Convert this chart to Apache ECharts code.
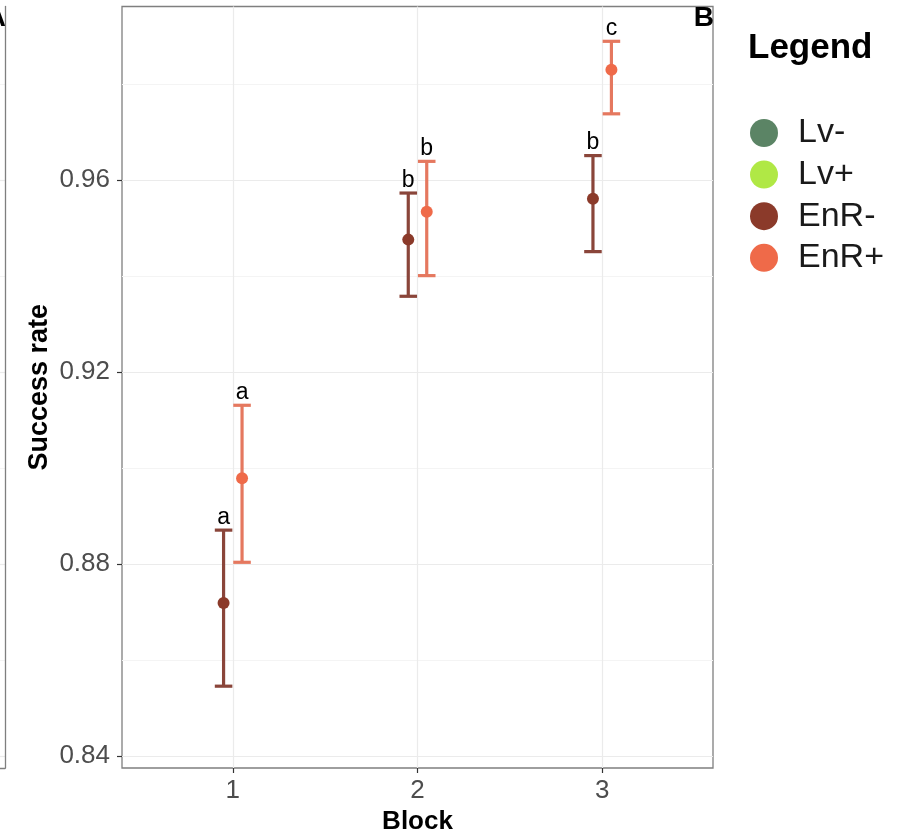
<!DOCTYPE html>
<html>
<head>
<meta charset="utf-8">
<script src="https://cdn.jsdelivr.net/npm/echarts@6/dist/echarts.min.js"></script>
<style>
  html, body { margin: 0; padding: 0; background: #ffffff; }
  #chart { width: 907px; height: 834px; }
</style>
</head>
<body>
<div id="chart"></div>
<script>
// Blocks on the x axis and the four treatment groups
const blocks = [1, 2, 3];
const groups = ['Lv-', 'Lv+', 'EnR-', 'EnR+'];

// EnR- : mean success rate with lower / upper error limits per block
const enrMinusMean = [0.8719, 0.9476, 0.9561];
const enrMinusLow  = [0.8546, 0.9358, 0.9451];
const enrMinusHigh = [0.8871, 0.9573, 0.9651];

// EnR+ : mean success rate with lower / upper error limits per block
const enrPlusMean = [0.8979, 0.9534, 0.9830];
const enrPlusLow  = [0.8804, 0.9401, 0.9738];
const enrPlusHigh = [0.9131, 0.9639, 0.9889];

// Significance letters drawn above each error bar
const enrMinusLetters = ['a', 'b', 'b'];
const enrPlusLetters  = ['a', 'b', 'c'];

// Axis ticks
const yTicks = [0.84, 0.88, 0.92, 0.96];
const yMinorTicks = [0.86, 0.90, 0.94, 0.98];
const xTickLabels = ['1', '2', '3'];

const FONT = "'Liberation Sans', Arial, Helvetica, sans-serif";
const Y_MIN = 0.83756, Y_MAX = 0.99615;
const DODGE = 0.05;
const CAP = 0.095;

const colors = {
  'Lv-': '#5b8465',
  'Lv+': '#b0e845',
  'EnR-': '#8b3a2a',
  'EnR+': '#ef6a49'
};
const barColors = { 'EnR-': '#8a453a', 'EnR+': '#e5785f' };

function errorBars(group, low, high, letters, offset) {
  const color = barColors[group];
  return {
    type: 'custom',
    name: group + ' interval',
    xAxisIndex: 0,
    yAxisIndex: 0,
    z: 3,
    silent: true,
    data: blocks.map((b, i) => [b + offset, low[i], high[i]]),
    encode: { x: 0, y: [1, 2] },
    renderItem(params, api) {
      const x = api.value(0);
      const lo = api.coord([x, api.value(1)]);
      const hi = api.coord([x, api.value(2)]);
      const half = api.size([CAP, 0])[0] / 2;
      const st = { stroke: color, lineWidth: 3.2 };
      return {
        type: 'group',
        children: [
          { type: 'line', shape: { x1: lo[0], y1: lo[1], x2: hi[0], y2: hi[1] }, style: st },
          { type: 'line', shape: { x1: lo[0] - half, y1: lo[1], x2: lo[0] + half, y2: lo[1] }, style: st },
          { type: 'line', shape: { x1: hi[0] - half, y1: hi[1], x2: hi[0] + half, y2: hi[1] }, style: st },
          {
            type: 'text',
            x: hi[0],
            y: hi[1] - 1,
            style: {
              text: letters[params.dataIndex],
              fontFamily: FONT,
              fontSize: 23,
              fill: '#000000',
              align: 'center',
              verticalAlign: 'bottom'
            }
          }
        ]
      };
    }
  };
}

function meanPoints(group, mean, offset) {
  return {
    type: 'scatter',
    name: group,
    xAxisIndex: 0,
    yAxisIndex: 0,
    z: 4,
    symbol: 'circle',
    symbolSize: 12,
    itemStyle: { color: colors[group], opacity: 1 },
    data: blocks.map((b, i) => [b + offset, mean[i]])
  };
}

const chart = echarts.init(document.getElementById('chart'), null, { renderer: 'canvas' });

const option = {
  backgroundColor: '#ffffff',
  animation: false,
  textStyle: { fontFamily: FONT },
  grid: [
    { left: 122, right: 194, top: 6.5, bottom: 66, outerBoundsMode: 'none', containLabel: false,
      show: true, borderColor: '#7f7f7f', borderWidth: 1.3, backgroundColor: 'transparent' },
    // strip of the neighbouring panel at the left edge
    { left: 0, width: 5, top: 6.5, bottom: 66, outerBoundsMode: 'none', containLabel: false, show: false }
  ],
  xAxis: [
    {
      type: 'value', gridIndex: 0, min: 0.4, max: 3.6,
      axisLine: { show: false },
      axisTick: { show: true, customValues: blocks, length: 5, lineStyle: { color: '#333333', width: 1.2 } },
      axisLabel: {
        customValues: blocks,
        formatter: (v) => xTickLabels[blocks.indexOf(Math.round(v))],
        fontSize: 26, color: '#4d4d4d', margin: 10, fontFamily: FONT
      },
      splitLine: { show: true, lineStyle: { color: '#ebebeb', width: 1.2 } },
      name: 'Block', nameLocation: 'middle', nameGap: 40,
      nameTextStyle: { fontSize: 26, fontWeight: 'bold', color: '#000000', fontFamily: FONT }
    },
    {
      type: 'value', gridIndex: 1, min: 0, max: 1, position: 'bottom',
      axisLine: { show: true, onZero: false, lineStyle: { color: '#7f7f7f', width: 1.3 } },
      axisTick: { show: false }, axisLabel: { show: false }, splitLine: { show: false }
    }
  ],
  yAxis: [
    {
      type: 'value', gridIndex: 0, min: Y_MIN, max: Y_MAX,
      axisLine: { show: false },
      axisTick: { show: true, customValues: yTicks, length: 5, lineStyle: { color: '#333333', width: 1.2 } },
      axisLabel: {
        customValues: yTicks,
        formatter: (v) => v.toFixed(2),
        fontSize: 26, color: '#4d4d4d', margin: 12, fontFamily: FONT
      },
      splitLine: { show: true, lineStyle: { color: '#ebebeb', width: 1.2 } },
      name: 'Success rate', nameLocation: 'middle', nameGap: 69, nameRotate: 90,
      nameMoveOverlap: false,
      nameTextStyle: { fontSize: 27, fontWeight: 'bold', color: '#000000', fontFamily: FONT }
    },
    {
      type: 'value', gridIndex: 0, min: Y_MIN, max: Y_MAX,
      axisLine: { show: false },
      axisTick: { show: false, customValues: yMinorTicks },
      axisLabel: { show: false },
      splitLine: { show: true, lineStyle: { color: '#f4f4f4', width: 1 } }
    },
    {
      type: 'value', gridIndex: 1, min: Y_MIN, max: Y_MAX, position: 'right',
      axisLine: { show: true, onZero: false, lineStyle: { color: '#7f7f7f', width: 1.3 } },
      axisTick: { show: false, customValues: yTicks },
      axisLabel: { show: false },
      splitLine: { show: true, lineStyle: { color: '#ebebeb', width: 1.2 } }
    },
    {
      type: 'value', gridIndex: 1, min: Y_MIN, max: Y_MAX,
      axisLine: { show: false },
      axisTick: { show: false, customValues: yMinorTicks },
      axisLabel: { show: false },
      splitLine: { show: true, lineStyle: { color: '#f4f4f4', width: 1 } }
    }
  ],
  legend: {
    data: groups,
    orient: 'vertical',
    left: 745,
    top: 111,
    icon: 'circle',
    itemWidth: 58,
    itemHeight: 28,
    itemGap: 7.6,
    selectedMode: false,
    textStyle: { fontSize: 34, color: '#1a1a1a', fontFamily: FONT, lineHeight: 28 }
  },
  graphic: [
    {
      type: 'text', left: 748, top: 31,
      style: { text: 'Legend', fontFamily: FONT, fontSize: 35, fontWeight: 'bold', fill: '#000000' }
    },
    {
      type: 'text', x: 714, y: 4,
      style: { text: 'B', fontFamily: FONT, fontSize: 28, fontWeight: 'bold', fill: '#000000', align: 'right', verticalAlign: 'top' }
    },
    {
      type: 'text', x: 6, y: 4,
      style: { text: 'A', fontFamily: FONT, fontSize: 28, fontWeight: 'bold', fill: '#000000', align: 'right', verticalAlign: 'top' }
    }
  ],
  series: [
    { type: 'scatter', name: 'Lv-', data: [], itemStyle: { color: colors['Lv-'], opacity: 1 } },
    { type: 'scatter', name: 'Lv+', data: [], itemStyle: { color: colors['Lv+'], opacity: 1 } },
    errorBars('EnR-', enrMinusLow, enrMinusHigh, enrMinusLetters, -DODGE),
    errorBars('EnR+', enrPlusLow, enrPlusHigh, enrPlusLetters, DODGE),
    meanPoints('EnR-', enrMinusMean, -DODGE),
    meanPoints('EnR+', enrPlusMean, DODGE)
  ]
};

chart.setOption(option);
</script>
</body>
</html>
